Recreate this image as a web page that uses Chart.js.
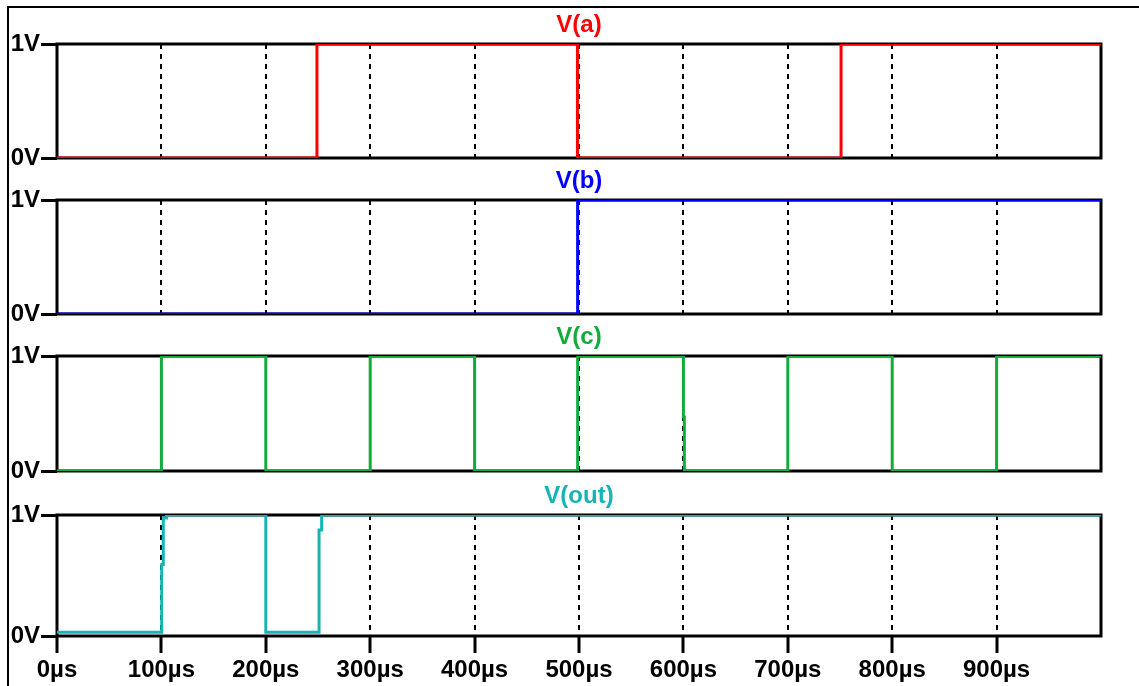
<!DOCTYPE html>
<html>
<head>
<meta charset="utf-8">
<title>Transient waveforms</title>
<script src="https://cdn.jsdelivr.net/npm/chart.js@4.4.1/dist/chart.umd.min.js"></script>
<style>
  html, body { margin: 0; padding: 0; background: #ffffff; }
  #wrap { position: relative; width: 1139px; height: 686px; overflow: hidden; background: #ffffff; }
  #frame { position: absolute; left: 7px; top: 6px; width: 1140px; height: 700px;
           border-left: 2px solid #000; border-top: 2px solid #000; box-sizing: border-box; }
  #wrap canvas { position: absolute; left: 0; }
</style>
</head>
<body>
<div id="wrap">
  <div id="frame"></div>
  <canvas id="pa"></canvas>
  <canvas id="pb"></canvas>
  <canvas id="pc"></canvas>
  <canvas id="pout"></canvas>
</div>
<script>
// Simulation time (µs) and node voltage (V) at each breakpoint of the traces
const timeA = [0, 249, 249, 498.5, 498.5, 751, 751, 1000];
const voltA = [0, 0, 1, 1, 0, 0, 1, 1];

const timeB = [0, 498.7, 498.7, 1000];
const voltB = [0, 0, 1, 1];

const timeC = [0, 100, 100, 200, 200, 300, 300, 400, 400, 498.7, 498.7, 600, 600, 600.9, 600.9, 700, 700, 800, 800, 900, 900, 1000];
const voltC = [0, 0, 1, 1, 0, 0, 1, 1, 0, 0, 1, 1, 0.47, 0.47, 0, 0, 1, 1, 0, 0, 1, 1];

const timeOut = [0, 100.3, 100.3, 101.8, 101.8, 105, 105, 200, 200, 251, 251, 253.5, 253.5, 1000];
const voltOut = [0.03, 0.03, 0.59, 0.59, 0.975, 0.975, 1, 1, 0.03, 0.03, 0.876, 0.876, 1, 1];

// Axis ticks
const timeTicks = [0, 100, 200, 300, 400, 500, 600, 700, 800, 900];
const voltTicks = [0, 1];
const timeUnit = 'µs';
const voltUnit = 'V';

// Panel order, trace names and colours
const panels = [
  { id: 'pa',   name: 'V(a)',   color: '#ff0000', t: timeA,   v: voltA,   top: 43.5, bottom: 157 },
  { id: 'pb',   name: 'V(b)',   color: '#0000ff', t: timeB,   v: voltB,   top: 200,  bottom: 314 },
  { id: 'pc',   name: 'V(c)',   color: '#13ab3a', t: timeC,   v: voltC,   top: 356,  bottom: 471 },
  { id: 'pout', name: 'V(out)', color: '#17b4b4', t: timeOut, v: voltOut, top: 515,  bottom: 636 }
];

const FONT = { family: '"Liberation Sans", Arial, sans-serif', size: 24, weight: 'bold' };
const TITLE_LH = 1.2;
const HEAD = 44;          // space above each plot box for the trace name
const TITLE_PAD_TOP = 11.2;
const PLOT_LEFT = 57;
const PLOT_RIGHT = 1101;
const W = 1139;

// Solid black box around each plot area, under the traces
const boxPlugin = {
  id: 'plotBox',
  beforeDatasetsDraw(chart) {
    const a = chart.chartArea, ctx = chart.ctx;
    ctx.save();
    ctx.strokeStyle = '#000';
    ctx.lineWidth = 3;
    ctx.setLineDash([]);
    ctx.strokeRect(a.left, a.top, a.right - a.left, a.bottom - a.top);
    ctx.restore();
  }
};

panels.forEach((p, i) => {
  const last = i === panels.length - 1;
  const below = last ? 686 - p.bottom : 18;
  const canvas = document.getElementById(p.id);
  const h = Math.round(HEAD + (p.bottom - p.top) + below);
  canvas.width = W;
  canvas.height = h;
  canvas.style.top = (p.top - HEAD) + 'px';

  new Chart(canvas, {
    type: 'line',
    data: {
      datasets: [{
        label: p.name,
        data: p.t.map((t, k) => ({ x: t, y: p.v[k] })),
        borderColor: p.color,
        borderWidth: 3,
        pointRadius: 0,
        tension: 0,
        fill: false
      }]
    },
    options: {
      responsive: false,
      animation: false,
      devicePixelRatio: 1,
      events: [],
      layout: { padding: { left: 0, right: W - PLOT_RIGHT, top: 0, bottom: last ? 0 : below } },
      plugins: {
        legend: { display: false },
        tooltip: { enabled: false },
        title: {
          display: true,
          text: p.name,
          color: p.color,
          fullSize: false,
          font: { ...FONT, lineHeight: TITLE_LH },
          padding: { top: TITLE_PAD_TOP, bottom: HEAD - TITLE_PAD_TOP - FONT.size * TITLE_LH }
        }
      },
      scales: {
        x: {
          type: 'linear',
          min: 0,
          max: 1000,
          afterBuildTicks(s) { s.ticks = timeTicks.map(v => ({ value: v })); },
          afterFit(s) { s.height = last ? below : 0; s.paddingLeft = 0; s.paddingRight = 0; },
          ticks: {
            display: last,
            color: '#000',
            font: FONT,
            padding: 3,
            maxRotation: 0,
            autoSkip: false,
            callback: v => v + timeUnit
          },
          grid: {
            display: true,
            color: '#000',
            lineWidth: 2,
            drawOnChartArea: true,
            drawTicks: last,
            tickLength: 17,
            tickWidth: 3,
            tickColor: '#000',
            tickBorderDash: []
          },
          border: { display: false, dash: [5, 5] }
        },
        y: {
          type: 'linear',
          min: 0,
          max: 1,
          afterBuildTicks(s) { s.ticks = voltTicks.map(v => ({ value: v })); },
          afterFit(s) { s.width = PLOT_LEFT; s.paddingTop = 0; s.paddingBottom = 0; },
          ticks: {
            color: '#000',
            font: FONT,
            padding: 1,
            callback: v => v + voltUnit
          },
          grid: {
            drawOnChartArea: false,
            drawTicks: true,
            tickLength: 16,
            tickWidth: 3,
            tickColor: '#000'
          },
          border: { display: false }
        }
      }
    },
    plugins: [boxPlugin]
  });
});
</script>
</body>
</html>
